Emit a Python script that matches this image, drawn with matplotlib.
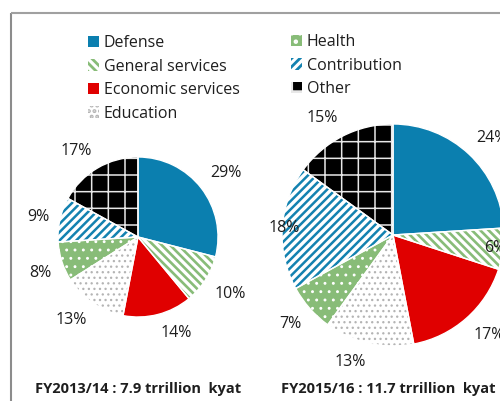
import matplotlib
matplotlib.use("Agg")
import matplotlib.pyplot as plt
import numpy as np

# Budget shares by category for the two fiscal years
categories = ["Defense", "General services", "Economic services", "Education",
              "Health", "Contribution", "Other"]
share_1314 = [29, 10, 14, 13, 8, 9, 17]
share_1516 = [24, 6, 17, 13, 7, 18, 15]
caption_1314 = "FY2013/14 : 7.9 trrillion  kyat"
caption_1516 = "FY2015/16 : 11.7 trrillion  kyat"

# Fill styles per category: face colour, hatch colour, hatch pattern, hatch width
faces = ["#0B7FAF", "white", "#E00000", "white", "#88BC78", "white", "black"]
hatch_colors = ["#0B7FAF", "#88BC78", "#E00000", "#B4B4B4", "white", "#1382B0", "#E8E8E8"]
hatches = [None, r"\\\\", None, "...", "..", "////", "+"]
hatch_widths = [1.0, 1.9, 1.0, 0.9, 0.9, 1.8, 1.1]

TEXT = "#1E1E1E"
plt.rcParams["font.family"] = ["Open Sans", "DejaVu Sans"]
plt.rcParams["hatch.linewidth"] = 2.0

fig = plt.figure(figsize=(5, 4.01), dpi=100)
ax = fig.add_axes([0, 0, 1, 1])


def draw_pie(values, center, radius, inside):
    wedges, _ = ax.pie(values, colors=faces, startangle=90, counterclock=False,
                       center=center, radius=radius, frame=True,
                       wedgeprops=dict(linewidth=0))
    for w, hc, h, hw in zip(wedges, hatch_colors, hatches, hatch_widths):
        w.set_edgecolor(hc)
        if h:
            w.set_hatch(h)
            if hasattr(w, "set_hatch_linewidth"):
                w.set_hatch_linewidth(hw)
    # thin white separators between slices
    ax.pie(values, colors=["none"] * len(values), startangle=90, counterclock=False,
           center=center, radius=radius, frame=True,
           wedgeprops=dict(linewidth=1.0, edgecolor="white", fill=False))

    total = float(sum(values))
    cum = 0.0
    for i, v in enumerate(values):
        mid = np.deg2rad(90 - (cum + v / 2) / total * 360)
        cum += v
        c, s = np.cos(mid), np.sin(mid)
        if i in inside:
            f = inside[i]
            ax.text(center[0] + f * radius * c, center[1] + f * radius * s, f"{v}%",
                    ha="center", va="center", fontsize=11.5, color=TEXT)
        else:
            d = radius + 11
            ha = "left" if c > 0 else "right"
            va = "center" if abs(s) < 0.3 else ("bottom" if s > 0 else "top")
            ax.text(center[0] + d * c, center[1] + d * s, f"{v}%",
                    ha=ha, va=va, fontsize=11.5, color=TEXT)
    return wedges


handles = draw_pie(share_1314, (138, 164), 80, {})
draw_pie(share_1516, (393, 166), 111, {1: 0.93, 5: 0.98})

ax.set_xlim(0, 500)
ax.set_ylim(0, 401)
ax.set_aspect("equal")
ax.axis("off")

# panel frame
ax.plot([11, 11], [0, 388], color="#8C8C8C", lw=1.5, solid_capstyle="butt")
ax.plot([11, 500], [388, 388], color="#A0A0A0", lw=1.5, solid_capstyle="butt")

legend_kw = dict(loc="upper left", frameon=False, fontsize=11.5, borderpad=0,
                 borderaxespad=0, handlelength=0.7, handleheight=0.7,
                 handletextpad=0.3, labelspacing=0.47, labelcolor=TEXT)
fig.legend(handles[:4], categories[:4], bbox_to_anchor=(88 / 500, 1 - 35 / 401),
           **legend_kw)
fig.legend(handles[4:], categories[4:], bbox_to_anchor=(291 / 500, 1 - 34 / 401),
           **legend_kw)

ax.text(138, 12, caption_1314, ha="center", va="center", fontsize=10.5,
        fontweight="bold", color=TEXT)
ax.text(388, 12, caption_1516, ha="center", va="center", fontsize=10.5,
        fontweight="bold", color=TEXT)

fig.savefig("out.png", dpi=100)
